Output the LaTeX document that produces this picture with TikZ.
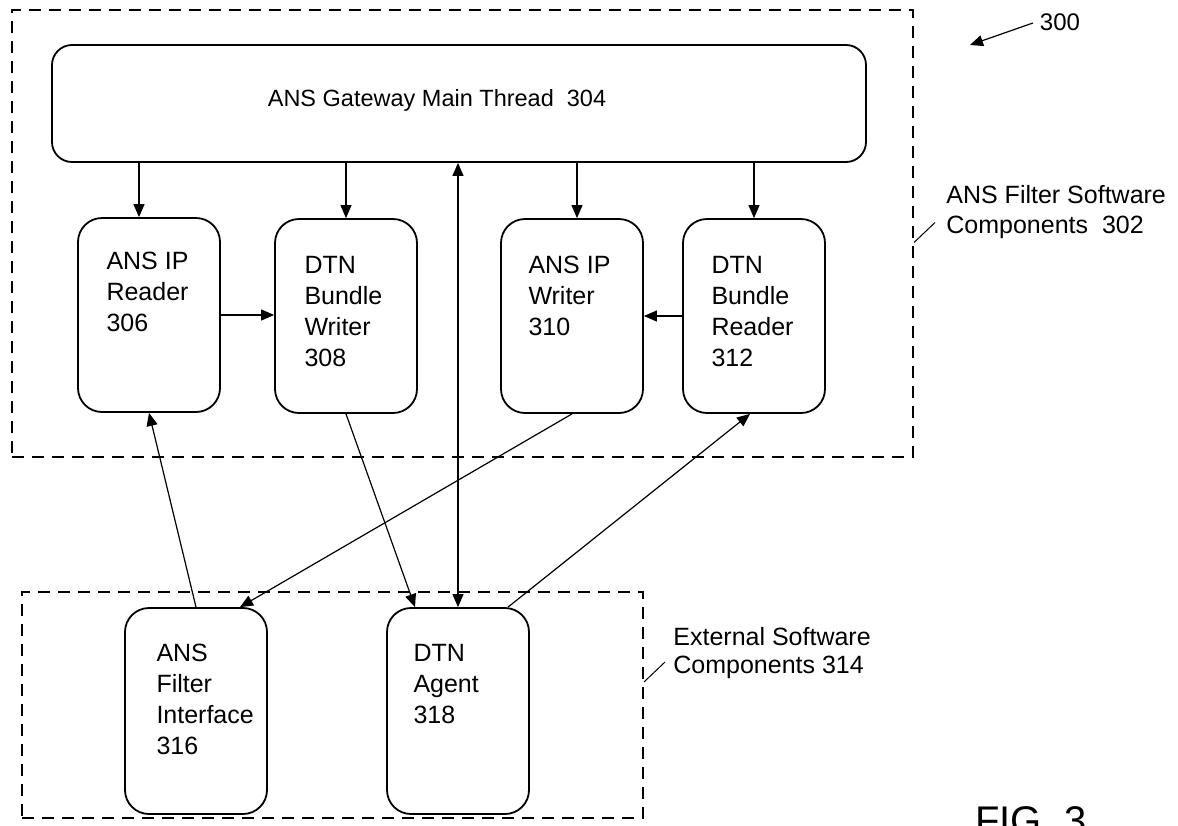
\documentclass[tikz,border=0pt]{standalone}
\usepackage{fontspec}
\setmainfont{Liberation Sans}
\usetikzlibrary{arrows.meta, positioning, calc}

\begin{document}
\begin{tikzpicture}[x=0.5pt, y=-0.5pt,
    box/.style={draw, line width=0.9pt, rounded corners=12pt, inner sep=0pt,
      minimum width=71pt, minimum height=97pt},
    txt/.style={anchor=north west, inner sep=0pt, align=left,
      font=\fontsize{12.5}{15.5}\selectfont},
    lbl/.style={anchor=north west, inner sep=0pt, align=left},
    group/.style={draw, dash pattern=on 6pt off 4pt, line width=1pt, inner sep=0pt},
    arr/.style={-{Triangle[length=6.5pt,width=5.5pt]}, line width=0.6pt},
    dblarr/.style={{Triangle[length=6.5pt,width=5.5pt]}-{Triangle[length=6.5pt,width=5.5pt]}, line width=0.6pt},
    leader/.style={line width=0.5pt}]
    \clip (0,0) rectangle (1178,825);

    % Dashed groups
    \node[group, minimum width=450.5pt, minimum height=223.5pt] (grp302) at (462.5,233.5) {};
    \node[group, minimum width=310.5pt, minimum height=113pt] (grp314) at (332.5,705) {};

    % Main thread
    \node[draw, line width=0.9pt, rounded corners=10pt, minimum width=407pt, minimum height=58.5pt]
        (main) at (459,103.5) {};
    \node[font=\fontsize{11.75}{14}\selectfont] (tmain) at (437,100) {ANS Gateway Main Thread\ \ 304};

    % Filter components
    \node[box] (r306) at (149,315) {};
    \node[box] (r308) at (346,316) {};
    \node[box] (r310) at (572,316) {};
    \node[box] (r312) at (754,316) {};
    \node[txt] (t306) at ([xshift=14.5pt,yshift=-17.5pt]r306.north west) {ANS IP\\Reader\\306};
    \node[txt] (t308) at ([xshift=15pt,yshift=-19pt]r308.north west) {DTN\\Bundle\\Writer\\308};
    \node[txt] (t310) at ([xshift=14pt,yshift=-19pt]r310.north west) {ANS IP\\Writer\\310};
    \node[txt] (t312) at ([xshift=14.5pt,yshift=-19pt]r312.north west) {DTN\\Bundle\\Reader\\312};

    % External components
    \node[box, minimum height=103pt] (r316) at (196,711) {};
    \node[box, minimum height=103pt] (r318) at (458,711) {};
    \node[txt] (t316) at ([xshift=16pt,yshift=-18.5pt]r316.north west) {ANS\\Filter\\Interface\\316};
    \node[txt] (t318) at ([xshift=13.5pt,yshift=-18.5pt]r318.north west) {DTN\\Agent\\318};

    % Main thread to components
    \draw[arr] ([xshift=-5pt]main.south -| r306.north) -- ([xshift=-5pt]r306.north);
    \draw[arr] (main.south -| r308.north) -- (r308.north);
    \draw[arr] ([xshift=2.5pt]main.south -| r310.north) -- ([xshift=2.5pt]r310.north);
    \draw[arr] (main.south -| r312.north) -- (r312.north);
    \draw[dblarr] (main.south -| r318.north) -- (r318.north);

    % Between components
    \draw[arr] (r306.east) -- (r306.east -| r308.west);
    \draw[arr] (r312.west) -- (r312.west -| r310.east);

    % To and from external components
    \draw[arr] (r316.north) -- (r306.south);
    \draw[arr] (r308.south) -- ([xshift=-21.5pt]r318.north);
    \draw[arr] (r310.south) -- ([xshift=22pt]r316.north);
    \draw[arr] ([xshift=25pt]r318.north) -- ([xshift=-2pt]r312.south);

    % Labels
    \node[lbl, font=\fontsize{12.5}{15}\selectfont] (l302) at (946,185) {ANS Filter Software\\Components\ \ 302};
    \draw[leader] ([yshift=-4.5pt]grp302.east) -- ++(21,-20);
    \node[lbl, font=\fontsize{12.5}{14}\selectfont] (l314) at (673,627) {External Software\\Components 314};
    \draw[leader] ([yshift=11.5pt]grp314.east) -- ++(21,-20);

    \node[font=\fontsize{12}{14}\selectfont] (n300) at (1060,22) {300};
    \coordinate (p300) at (970,45);
    \draw[arr] ([yshift=-0.5pt]n300.west) -- (p300);

    \node[font=\fontsize{20}{24}\selectfont, anchor=base west, inner sep=0pt] (fig) at (975,834) {FIG. 3};
\end{tikzpicture}
\end{document}
